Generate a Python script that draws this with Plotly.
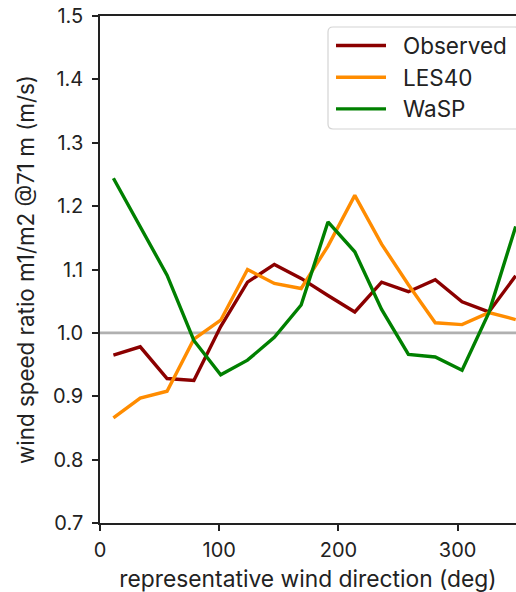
import plotly.graph_objects as go

# Sector-centre wind directions (deg), 16 sectors of 22.5 deg
direction = [11.25, 33.75, 56.25, 78.75, 101.25, 123.75, 146.25, 168.75,
             191.25, 213.75, 236.25, 258.75, 281.25, 303.75, 326.25, 348.75]

# Wind speed ratio m1/m2 at 71 m
observed = [0.965, 0.978, 0.928, 0.925, 1.010, 1.080, 1.108, 1.086,
            1.059, 1.033, 1.080, 1.065, 1.084, 1.049, 1.033, 1.090]
les40 = [0.866, 0.897, 0.908, 0.990, 1.020, 1.100, 1.078, 1.070,
         1.137, 1.217, 1.140, 1.076, 1.016, 1.013, 1.032, 1.021]
wasp = [1.244, 1.167, 1.091, 0.988, 0.934, 0.957, 0.993, 1.044,
        1.175, 1.128, 1.037, 0.966, 0.962, 0.941, 1.032, 1.168]

series = [("Observed", observed, "#8b0000"),
          ("LES40", les40, "#ff8c00"),
          ("WaSP", wasp, "#008000")]

FONT = "Inter"
INK = "#222222"
LW = 3.4
W, H = 516, 592
ML, MR, MT, MB = 100, 0, 16, 69
PW, PH = W - ML - MR, H - MT - MB


def px(xp):
    """Pixel column -> paper x fraction."""
    return (xp - ML) / PW


def py(yp):
    """Pixel row -> paper y fraction."""
    return (H - MB - yp) / PH


def font(size):
    return dict(family=FONT, size=size, color=INK)


fig = go.Figure()
for name, vals, color in series:
    fig.add_trace(go.Scatter(x=direction, y=vals, mode="lines", name=name,
                             showlegend=False,
                             line=dict(color=color, width=LW)))

# reference line at ratio 1
fig.add_shape(type="line", xref="paper", yref="y", x0=0, x1=1, y0=1.0, y1=1.0,
              line=dict(color="#b0b0b0", width=2.6), layer="below")

# legend box (rounded) with line samples and labels
x0, x1, y0, y1, r = 328, 520, 27, 129, 5
box = (f"M {px(x0 + r)},{py(y0)} L {px(x1 - r)},{py(y0)} "
       f"Q {px(x1)},{py(y0)} {px(x1)},{py(y0 + r)} L {px(x1)},{py(y1 - r)} "
       f"Q {px(x1)},{py(y1)} {px(x1 - r)},{py(y1)} L {px(x0 + r)},{py(y1)} "
       f"Q {px(x0)},{py(y1)} {px(x0)},{py(y1 - r)} L {px(x0)},{py(y0 + r)} "
       f"Q {px(x0)},{py(y0)} {px(x0 + r)},{py(y0)} Z")
fig.add_shape(type="path", xref="paper", yref="paper", path=box,
              fillcolor="rgba(255,255,255,0.85)",
              line=dict(color="#d4d4d4", width=1.2))
for i, (name, _, color) in enumerate(series):
    yc = 45.5 + i * 31.7
    fig.add_shape(type="line", xref="paper", yref="paper",
                  x0=px(336), x1=px(386), y0=py(yc), y1=py(yc),
                  line=dict(color=color, width=LW))
    fig.add_annotation(xref="paper", yref="paper", x=px(401), y=py(yc),
                       text=name, showarrow=False, xanchor="left",
                       yanchor="middle", font=font(22.5))

axis_common = dict(showgrid=False, zeroline=False,
                   showline=True, linecolor=INK, linewidth=1.5,
                   ticks="outside", ticklen=6, tickwidth=1.5, tickcolor=INK,
                   tickfont=font(20))

fig.update_layout(
    width=W, height=H,
    margin=dict(l=ML, r=MR, t=MT, b=MB),
    paper_bgcolor="white", plot_bgcolor="white",
    font=font(20),
    showlegend=False,
    xaxis=dict(range=[0, 349], tickvals=[0, 100, 200, 300], mirror=True,
               ticklabelstandoff=2,
               title=dict(text="representative wind direction (deg)",
                          font=font(22.8), standoff=11),
               **axis_common),
    yaxis=dict(range=[0.7, 1.5],
               tickvals=[0.7, 0.8, 0.9, 1.0, 1.1, 1.2, 1.3, 1.4, 1.5],
               tickformat=".1f", mirror=False, ticklabelstandoff=5,
               title=dict(text="wind speed ratio m1/m2 @71 m (m/s)",
                          font=font(22.4), standoff=12),
               **axis_common),
)

fig.write_html("out.html")
